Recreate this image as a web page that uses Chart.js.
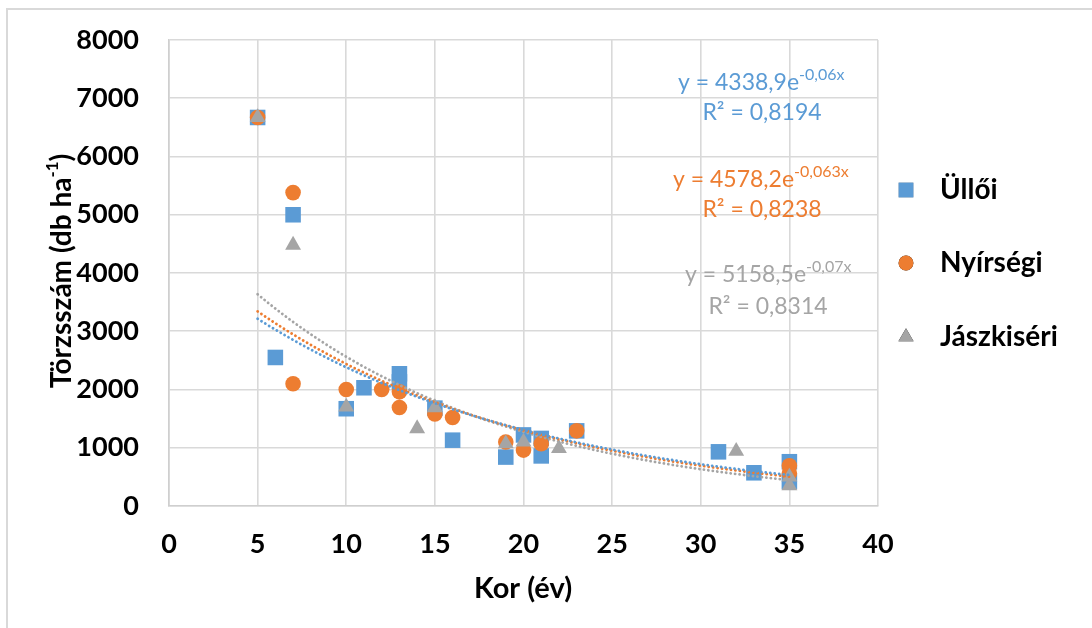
<!DOCTYPE html>
<html>
<head>
<meta charset="utf-8">
<script src="https://cdn.jsdelivr.net/npm/chart.js@4.4.1/dist/chart.umd.min.js"></script>
<style>
  html, body { margin: 0; padding: 0; background: #fff; }
  #wrap { position: relative; width: 1092px; height: 628px; }
</style>
</head>
<body>
<div id="wrap"><canvas id="chart"></canvas></div>
<script>
// series
const seriesNames = ['Üllői', 'Nyírségi', 'Jászkiséri'];
const seriesColors = ['#5b9bd5', '#ed7d31', '#a5a5a5'];
const seriesShapes = ['rect', 'circle', 'triangle'];

const ulloiX = [5, 6, 7, 10, 11, 13, 13, 15, 16, 19, 20, 21, 21, 23, 31, 33, 35, 35];
const ulloiY = [6670, 2550, 5000, 1670, 2030, 2270, 2130, 1680, 1130, 840, 1220, 1160, 860, 1290, 930, 570, 760, 420];

const nyirX = [5, 7, 7, 10, 12, 13, 13, 15, 16, 19, 20, 21, 23, 35, 35];
const nyirY = [6670, 5380, 2100, 2000, 2000, 1960, 1690, 1580, 1520, 1100, 960, 1070, 1290, 690, 560];

const jaszX = [5, 7, 10, 14, 15, 19, 20, 22, 32, 35, 35];
const jaszY = [6670, 4480, 1700, 1330, 1690, 1070, 1100, 990, 940, 500, 350];

// exponential trendlines y = a * e^(b x), as printed on the chart
const trendA = [4338.9, 4578.2, 5158.5];
const trendB = [-0.06, -0.063, -0.07];
const trendFrom = 5;
const trendTo = 35;

const eqMain = ['y = 4338,9e', 'y = 4578,2e', 'y = 5158,5e'];
const eqExp = ['-0,06x', '-0,063x', '-0,07x'];
const eqR2 = ['R² = 0,8194', 'R² = 0,8238', 'R² = 0,8314'];

// axes
const xTicks = [0, 5, 10, 15, 20, 25, 30, 35, 40];
const yTicks = [0, 1000, 2000, 3000, 4000, 5000, 6000, 7000, 8000];
const xTitle = 'Kor (év)';
const yTitle = ['Törzsszám (db ha', '-1', ')'];

const FONT = 'Lato';
const markerRadius = [11, 7.8, 9.2];

function pairs(xs, ys) {
  return xs.map((x, i) => ({ x: x, y: ys[i] }));
}

function trendPoints(k) {
  const pts = [];
  for (let x = trendFrom; x <= trendTo + 1e-9; x += 0.5) {
    pts.push({ x: x, y: trendA[k] * Math.exp(trendB[k] * x) });
  }
  return pts;
}

const pointSets = [pairs(ulloiX, ulloiY), pairs(nyirX, nyirY), pairs(jaszX, jaszY)];

const datasets = [];
pointSets.forEach((pts, k) => {
  datasets.push({
    type: 'scatter',
    label: seriesNames[k],
    data: pts,
    pointStyle: seriesShapes[k],
    pointRadius: markerRadius[k],
    pointHoverRadius: markerRadius[k],
    backgroundColor: seriesColors[k],
    borderColor: seriesColors[k],
    borderWidth: 0,
    order: 3 - k
  });
});
pointSets.forEach((pts, k) => {
  datasets.push({
    type: 'line',
    label: 'trend ' + seriesNames[k],
    data: trendPoints(k),
    borderColor: seriesColors[k],
    borderWidth: 2.8,
    borderDash: [0.1, 4.4],
    borderCapStyle: 'round',
    pointRadius: 0,
    fill: false,
    tension: 0,
    order: 0
  });
});

function drawSup(ctx, parts, sizes, raise, x, y) {
  ctx.font = '400 ' + sizes[0] + 'px ' + FONT;
  const w0 = ctx.measureText(parts[0]).width;
  ctx.textAlign = 'left';
  ctx.textBaseline = 'middle';
  ctx.fillText(parts[0], x, y);
  ctx.font = '400 ' + sizes[1] + 'px ' + FONT;
  ctx.fillText(parts[1], x + w0, y - raise);
}

const decor = {
  id: 'decor',
  beforeDraw(chart) {
    const ctx = chart.ctx;
    ctx.save();
    ctx.fillStyle = '#ffffff';
    ctx.fillRect(0, 0, chart.width, chart.height);
    ctx.strokeStyle = '#d9d9d9';
    ctx.lineWidth = 2;
    ctx.beginPath();
    ctx.moveTo(7, chart.height);
    ctx.lineTo(7, 9);
    ctx.lineTo(chart.width, 9);
    ctx.stroke();
    ctx.restore();
  },
  afterDraw(chart) {
    const ctx = chart.ctx;
    ctx.save();
    ctx.fillStyle = '#000';

    // x axis title
    ctx.font = 'bold 29px ' + FONT;
    ctx.textAlign = 'center';
    ctx.textBaseline = 'middle';
    ctx.fillText(xTitle, 523, 589);

    // y axis title with superscript
    ctx.translate(62, 271);
    ctx.rotate(-Math.PI / 2);
    ctx.font = 'bold 28px ' + FONT;
    const a = ctx.measureText(yTitle[0]).width;
    const c = ctx.measureText(yTitle[2]).width;
    ctx.font = 'bold 17px ' + FONT;
    const b = ctx.measureText(yTitle[1]).width;
    const left = -(a + b + c) / 2;
    ctx.textAlign = 'left';
    ctx.font = 'bold 28px ' + FONT;
    ctx.fillText(yTitle[0], left, 0);
    ctx.font = 'bold 17px ' + FONT;
    ctx.fillText(yTitle[1], left + a, -9);
    ctx.font = 'bold 28px ' + FONT;
    ctx.fillText(yTitle[2], left + a + b, 0);
    ctx.setTransform(1, 0, 0, 1, 0, 0);

    // trendline equations
    const eqX = [678, 673, 685];
    const eqY = [83, 180, 275];
    const r2X = [762, 762, 768];
    const r2Y = [113, 210, 307];
    for (let k = 0; k < 3; k++) {
      ctx.fillStyle = seriesColors[k];
      drawSup(ctx, [eqMain[k], eqExp[k]], [23, 16], 8, eqX[k], eqY[k]);
      ctx.font = '400 23px ' + FONT;
      ctx.textAlign = 'center';
      ctx.textBaseline = 'middle';
      ctx.fillText(eqR2[k], r2X[k], r2Y[k]);
    }

    // legend
    const legY = [190, 263, 337];
    for (let k = 0; k < 3; k++) {
      Chart.helpers.drawPoint(ctx, {
        pointStyle: seriesShapes[k],
        radius: markerRadius[k] * 0.95,
        borderWidth: 0,
        rotation: 0
      }, 906, legY[k]);
      ctx.fillStyle = seriesColors[k];
      ctx.fill();
      ctx.fillStyle = '#000';
      ctx.font = 'bold 28px ' + FONT;
      ctx.textAlign = 'left';
      ctx.textBaseline = 'middle';
      ctx.fillText(seriesNames[k], 940, legY[k]);
    }
    ctx.restore();
  }
};

const canvas = document.getElementById('chart');
canvas.width = 1092;
canvas.height = 628;

new Chart(canvas.getContext('2d'), {
  data: { datasets: datasets },
  options: {
    responsive: false,
    animation: false,
    devicePixelRatio: 1,
    layout: { padding: { left: 0, top: 40, right: 214, bottom: 0 } },
    plugins: {
      legend: { display: false },
      tooltip: { enabled: false }
    },
    scales: {
      x: {
        type: 'linear',
        min: 0,
        max: 40,
        afterBuildTicks: s => { s.ticks = xTicks.map(v => ({ value: v })); },
        afterFit: s => { s.height = 122; s.paddingLeft = 0; s.paddingRight = 0; },
        grid: { color: '#d9d9d9', lineWidth: 1.6, drawTicks: false },
        border: { color: '#cfcfcf', width: 1.6 },
        ticks: {
          color: '#000',
          font: { family: FONT, size: 27, weight: 'bold' },
          padding: 22,
          callback: v => String(v)
        }
      },
      y: {
        type: 'linear',
        min: 0,
        max: 8000,
        afterBuildTicks: s => { s.ticks = yTicks.map(v => ({ value: v })); },
        afterFit: s => { s.width = 169; s.paddingTop = 0; s.paddingBottom = 0; },
        grid: { color: '#d9d9d9', lineWidth: 1.6, drawTicks: false },
        border: { color: '#cfcfcf', width: 1.6 },
        ticks: {
          color: '#000',
          font: { family: FONT, size: 27, weight: 'bold' },
          padding: 30,
          callback: v => String(v)
        }
      }
    }
  },
  plugins: [decor]
});
</script>
</body>
</html>
